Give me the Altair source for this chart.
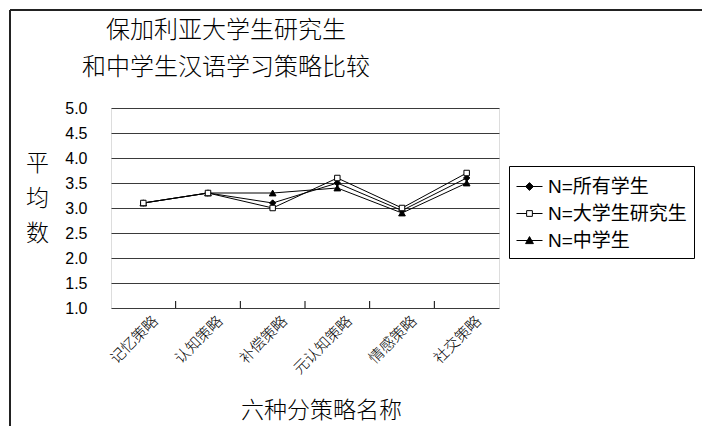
import altair as alt
import pandas as pd

# Strategy categories and mean scores for each learner group
categories = ["记忆策略", "认知策略", "补偿策略", "元认知策略", "情感策略", "社交策略"]
series_names = ["N=所有学生", "N=大学生研究生", "N=中学生"]
all_students = [3.1, 3.3, 3.1, 3.5, 2.95, 3.6]
university = [3.1, 3.3, 3.0, 3.6, 3.0, 3.7]
middle_school = [3.1, 3.3, 3.3, 3.4, 2.9, 3.5]
y_ticks = [1.0, 1.5, 2.0, 2.5, 3.0, 3.5, 4.0, 4.5, 5.0]

rows = []
for name, vals in zip(series_names, [all_students, university, middle_school]):
    for c, v in zip(categories, vals):
        rows.append({"cat": c, "series": name, "value": v})
df = pd.DataFrame(rows)
boundaries = pd.DataFrame({"cat": categories[1:]})

CJK = "Noto Sans CJK SC"
W, H = 388, 200

xaxis = alt.Axis(
    title="六种分策略名称", titleFont=CJK, titleFontSize=23, titleFontWeight=300,
    titleColor="black", titleX=210, titleY=102, titleBaseline="middle", titleAnchor="start",
    titleAlign="center",
    labelFont=CJK, labelFontSize=15, labelFontWeight=300, labelColor="black", labelAngle=-45,
    labelAlign="right", labelBaseline="middle", labelPadding=10, labelOffset=12,
    ticks=False, domain=False, grid=False,
)
yaxis = alt.Axis(
    values=y_ticks, format=".1f",
    title=["平", "均", "数"], titleAngle=0, titleFont=CJK, titleFontSize=23,
    titleFontWeight=300, titleColor="black", titleX=-74, titleY=44,
    titleAlign="center", titleBaseline="top", titleLineHeight=35,
    labelFont="Liberation Sans", labelFontSize=16, labelColor="black", labelPadding=24,
    ticks=False, domain=False, grid=True, gridColor="#3a3a3a", gridWidth=1,
)

x_enc = alt.X("cat:N", sort=categories,
              scale=alt.Scale(type="band", paddingInner=0, paddingOuter=0),
              bandPosition=0.5, axis=xaxis)
y_enc = alt.Y("value:Q", scale=alt.Scale(domain=[1, 5], nice=False, zero=False), axis=yaxis)

base = alt.Chart(df)

lines = base.mark_line(color="black", strokeWidth=1).encode(
    x=x_enc, y=y_enc, detail="series:N"
)

marker_styles = {
    "N=所有学生": dict(shape="diamond", fill="black", size=40),
    "N=大学生研究生": dict(shape="square", fill="white", size=30),
    "N=中学生": dict(shape="triangle-up", fill="black", size=45),
}
point_layers = []
for name in ["N=所有学生", "N=中学生", "N=大学生研究生"]:
    st = marker_styles[name]
    point_layers.append(
        base.transform_filter(alt.datum.series == name)
        .mark_point(shape=st["shape"], fill=st["fill"], filled=True, stroke="black",
                    strokeWidth=1, size=st["size"], opacity=1)
        .encode(x=x_enc, y=y_enc)
    )

# Small inward ticks on the category axis at the band boundaries
ticks = alt.Chart(boundaries).mark_rule(color="black", strokeWidth=1).encode(
    x=alt.X("cat:N", sort=categories,
            scale=alt.Scale(type="band", paddingInner=0, paddingOuter=0),
            bandPosition=0, axis=xaxis),
    y=alt.value(H), y2=alt.value(H - 7),
)

# Legend: line-with-marker symbols
sym_paths = [
    "M-1,0H1M0,-0.3L0.3,0L0,0.3L-0.3,0Z",
    "M-1,0H-0.22M0.22,0H1M-0.22,-0.22H0.22V0.22H-0.22Z",
    "M-1,0H1M0,-0.3L0.3,0.24H-0.3Z",
]
legend_style = dict(
    title=None, orient="none", legendX=398, legendY=58,
    strokeColor="black", fillColor="white", padding=7,
    labelFont="Liberation Sans, " + CJK, labelFontSize=19, labelColor="black",
    labelFontWeight="normal", labelOffset=5, labelLimit=300,
    symbolSize=676, symbolStrokeColor="black", symbolStrokeWidth=1,
    rowPadding=3, symbolOpacity=1,
)
legend_layer = base.transform_filter("false").mark_point(
    filled=True, strokeWidth=1, size=676, opacity=1
).encode(
    shape=alt.Shape("series:N", scale=alt.Scale(domain=series_names, range=sym_paths),
                    legend=alt.Legend(**legend_style)),
    fill=alt.Fill("series:N", scale=alt.Scale(domain=series_names,
                                               range=["black", "white", "black"]),
                  legend=alt.Legend(**legend_style)),
    stroke=alt.Stroke("series:N", scale=alt.Scale(domain=series_names,
                                                   range=["black", "black", "black"]),
                      legend=alt.Legend(**legend_style)),
)

# Outer frame lines along the left and top edges
frame_left = alt.Chart(boundaries).mark_rule(color="#222", strokeWidth=2).encode(
    x=alt.value(-101), y=alt.value(-98), y2=alt.value(330)
)
frame_top = alt.Chart(boundaries).mark_rule(color="#222", strokeWidth=2).encode(
    x=alt.value(-101), x2=alt.value(600), y=alt.value(-98)
)

chart = alt.layer(
    lines, *point_layers, ticks, legend_layer, frame_left, frame_top
).properties(
    width=W, height=H,
    autosize=alt.AutoSizeParams(type="none"),
    padding={"left": 111, "top": 108, "right": 203, "bottom": 118},
    title=alt.TitleParams(
        ["保加利亚大学生研究生", "和中学生汉语学习策略比较"],
        font=CJK, fontSize=24, fontWeight=300, color="black", lineHeight=37,
        anchor="middle", frame="group", dx=-79, offset=-71,
    ),
).configure_view(
    fill="#efefef", stroke="black", strokeWidth=1.5
).configure(background="white")

chart.save("out.html", embed_options={"renderer": "svg", "actions": False})
